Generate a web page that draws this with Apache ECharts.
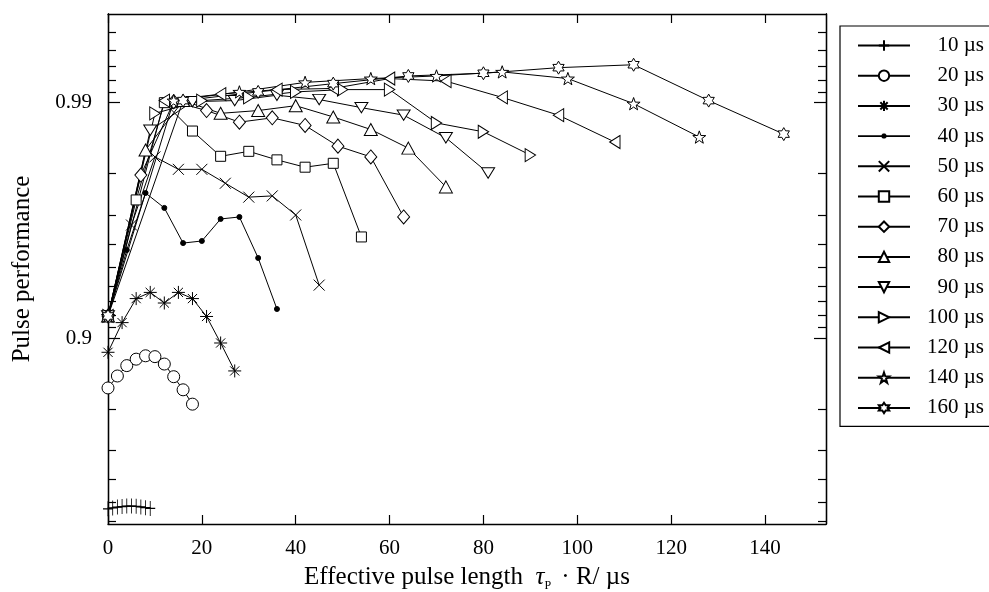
<!DOCTYPE html>
<html>
<head>
<meta charset="utf-8">
<script src="https://cdn.jsdelivr.net/npm/echarts@6/dist/echarts.min.js"></script>
<style>html,body{margin:0;padding:0;background:#fff}#c{width:989px;height:592px}</style>
</head>
<body>
<div id="c"></div>
<script>
// ---------------- data ----------------
const seriesNames = ['10 µs','20 µs','30 µs','40 µs','50 µs','60 µs','70 µs','80 µs','90 µs','100 µs','120 µs','140 µs','160 µs'];
// effective pulse step (τP) of each series, in µs; x = τP · R
const pulseSteps = [1, 2, 3, 4, 5, 6, 7, 8, 9, 10, 12, 14, 16];
const repetitions = [0, 1, 2, 3, 4, 5, 6, 7, 8, 9];

const perf10  = [0.468, 0.473, 0.477, 0.480, 0.482, 0.482, 0.481, 0.478, 0.474, 0.470];
const perf20  = [0.837, 0.855, 0.869, 0.877, 0.881, 0.880, 0.871, 0.854, 0.834, 0.809];
const perf30  = [0.885, 0.914, 0.932, 0.936, 0.929, 0.936, 0.932, 0.919, 0.895, 0.862];
const perf40  = [0.9194, 0.9577, 0.9758, 0.9720, 0.9605, 0.9613, 0.9688, 0.9694, 0.9543, 0.9247];
const perf50  = [0.9194, 0.9669, 0.9830, 0.9808, 0.9808, 0.9780, 0.9748, 0.9751, 0.9700, 0.9404];
const perf60  = [0.9194, 0.9741, 0.9900, 0.9868, 0.9831, 0.9839, 0.9825, 0.9812, 0.9819, 0.9628];
const perf70  = [0.9194, 0.9797, 0.9901, 0.9892, 0.9879, 0.9884, 0.9875, 0.9847, 0.9830, 0.9694];
const perf80  = [0.9194, 0.9841, 0.9902, 0.9889, 0.9892, 0.9897, 0.9885, 0.9870, 0.9844, 0.9772];
const perf90  = [0.9194, 0.9869, 0.9901, 0.9902, 0.9907, 0.9903, 0.9895, 0.9887, 0.9859, 0.9801];
const perf100 = [0.9194, 0.9889, 0.9902, 0.9905, 0.9910, 0.9912, 0.9912, 0.9878, 0.9867, 0.9833];
const perf120 = [0.9194, 0.9902, 0.9908, 0.9912, 0.9913, 0.9921, 0.9919, 0.9905, 0.9887, 0.9853];
const perf140 = [0.9194, 0.9902, 0.9910, 0.9918, 0.9921, 0.9923, 0.9926, 0.9921, 0.9899, 0.9860];
const perf160 = [0.9194, 0.9902, 0.9910, 0.9917, 0.9923, 0.9925, 0.9929, 0.9931, 0.9902, 0.9864];
const perfAll = [perf10, perf20, perf30, perf40, perf50, perf60, perf70, perf80, perf90, perf100, perf120, perf140, perf160];

const xTickValues = [0, 20, 40, 60, 80, 100, 120, 140];
const yMajorValues = [0.9, 0.99];
const yMajorLabels = ['0.9', '0.99'];
const yMinorValues = [0.4, 0.5, 0.6, 0.7, 0.8, 0.91, 0.92, 0.93, 0.94, 0.95, 0.96, 0.97, 0.98, 0.991, 0.992, 0.993, 0.994, 0.995];

// ---------------- styling ----------------
const FONT = '"Liberation Serif", "DejaVu Serif", serif';
const T = p => -Math.log10(1 - p);   // logit-like performance scale
const yMin = T(0.383), yMax = T(0.9958);

const sym = {
  plus: 'path://M10,0L10,20M0,10L20,10',
  ast: 'path://M10,0L10,20M0,10L20,10M2.93,2.93L17.07,17.07M2.93,17.07L17.07,2.93',
  cross: 'path://M0,0L20,20M0,20L20,0',
  tDown: 'path://M0,0L20,0L10,17.3Z',
  tRight: 'path://M0,0L17.3,10L0,20Z',
  tLeft: 'path://M17.3,0L0,10L17.3,20Z',
  star5: 'path://M10,0L12.35,6.76L19.51,6.91L13.8,11.24L15.88,18.09L10,14L4.12,18.09L6.2,11.24L0.49,6.91L7.65,6.76Z',
  star6: 'path://M10,0L12.89,5L18.66,5L15.77,10L18.66,15L12.89,15L10,20L7.11,15L1.34,15L4.23,10L1.34,5L7.11,5Z'
};
const symbols = [sym.plus, 'circle', sym.ast, 'circle', sym.cross, 'rect', 'diamond', 'triangle', sym.tDown, sym.tRight, sym.tLeft, sym.star5, sym.star6];
const sizes = [[10,15], 12, 13, 5, 11, 10, [12,14], [13,12], [13,12], [12,13], [12,13], 13, 13];

const series = seriesNames.map((name, i) => ({
  name,
  type: 'line',
  xAxisIndex: 0,
  yAxisIndex: 0,
  clip: false,
  symbol: symbols[i],
  symbolSize: sizes[i],
  symbolKeepAspect: i !== 0 && i !== 6,
  showAllSymbol: true,
  lineStyle: { color: '#000', width: 1 },
  itemStyle: { color: i === 3 ? '#000' : '#fff', borderColor: '#000', borderWidth: 1 },
  emphasis: { disabled: true },
  data: repetitions.map(r => [pulseSteps[i] * r, T(perfAll[i][r])])
}));

const legendData = seriesNames.map((name, i) => i === 3
  ? { name, icon: 'path://M0,5.2L52,5.2L52,6.8L0,6.8ZM24.8,3.5L27.2,3.5L28.5,4.8L28.5,7.2L27.2,8.5L24.8,8.5L23.5,7.2L23.5,4.8Z',
      itemStyle: { color: '#000', borderColor: '#000', borderWidth: 0 } }
  : { name });

const axisLine = { show: true, onZero: false, lineStyle: { color: '#000', width: 1.3 } };
function yAx(pos, ticks, len, labels) {
  return {
    type: 'value', position: pos, min: yMin, max: yMax,
    splitLine: { show: false },
    axisLine,
    axisTick: { show: true, inside: true, length: len, customValues: ticks.map(T), lineStyle: { color: '#000', width: 1.2 } },
    axisLabel: labels ? {
      show: true, customValues: yMajorValues.map(T), margin: 16, color: '#000', fontSize: 21, fontFamily: FONT,
      formatter: v => { let k = 0; yMajorValues.forEach((p, j) => { if (Math.abs(T(p) - v) < Math.abs(T(yMajorValues[k]) - v)) k = j; }); return yMajorLabels[k]; }
    } : { show: false },
    name: labels ? 'Pulse performance' : '',
    nameLocation: 'middle', nameRotate: 90, nameGap: 73,
    nameTextStyle: { color: '#000', fontSize: 25, fontFamily: FONT }
  };
}
function xAx(pos, labels) {
  return {
    type: 'value', position: pos, min: 0, max: 153,
    splitLine: { show: false },
    axisLine,
    axisTick: { show: true, inside: true, length: 9, customValues: xTickValues, lineStyle: { color: '#000', width: 1.2 } },
    axisLabel: labels ? { show: true, customValues: xTickValues, margin: 14, color: '#000', fontSize: 21, fontFamily: FONT } : { show: false },
    name: labels ? '{a|Effective pulse length  }{i|τ}{s|P}{a| · R/ µs}' : '',
    nameLocation: 'middle', nameGap: 38,
    nameTextStyle: {
      color: '#000', fontSize: 25, fontFamily: FONT,
      rich: {
        a: { fontSize: 25, fontFamily: FONT, color: '#000', lineHeight: 30 },
        i: { fontSize: 25, fontFamily: FONT, color: '#000', fontStyle: 'italic', lineHeight: 30 },
        s: { fontSize: 12, fontFamily: FONT, color: '#000', lineHeight: 14, verticalAlign: 'bottom', padding: [0, 4, 0, 0] }
      }
    }
  };
}

const chart = echarts.init(document.getElementById('c'), null, { renderer: 'canvas' });
chart.setOption({
  animation: false,
  backgroundColor: '#fff',
  grid: { left: 108, top: 14, right: 163, bottom: 68, containLabel: false, outerBoundsMode: 'none' },
  xAxis: [xAx('bottom', true), xAx('top', false)],
  yAxis: [yAx('left', yMajorValues, 12, true), yAx('left', yMinorValues, 8, false),
          yAx('right', yMajorValues, 12, false), yAx('right', yMinorValues, 8, false)],
  legend: {
    orient: 'vertical', left: 840, top: 26,
    padding: [9, 24, 8, 17],
    borderColor: '#000', borderWidth: 1.2, borderRadius: 0,
    itemWidth: 52, itemHeight: 13, itemGap: 9.2,
    selectedMode: false,
    data: legendData,
    formatter: n => '{t|' + n + '}',
    textStyle: { color: '#000', fontSize: 21, fontFamily: FONT,
      rich: { t: { width: 69, align: 'right', fontSize: 21, lineHeight: 20, fontFamily: FONT, color: '#000' } } }
  },
  series
});
</script>
</body>
</html>
